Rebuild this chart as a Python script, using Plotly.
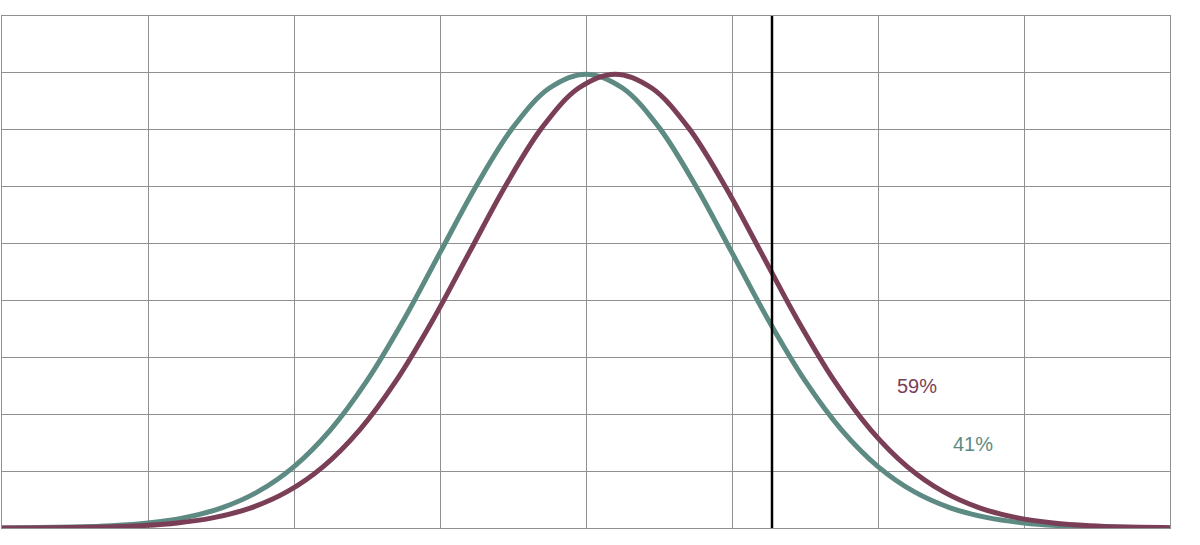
import plotly.graph_objects as go

# curve samples (x in sd units, y = density)
green_x = [-4.0, -3.75, -3.5, -3.25, -3.0, -2.75, -2.5, -2.25, -2.0, -1.75, -1.5,
           -1.25, -1.0, -0.75, -0.5, -0.25, 0.0, 0.25, 0.5, 0.75, 1.0, 1.25, 1.5,
           1.75, 2.0, 2.25, 2.5, 2.75, 3.0, 3.25, 3.5, 3.75, 4.0]
green_y = [0.0001, 0.0004, 0.0009, 0.0020, 0.0044, 0.0091, 0.0175, 0.0317, 0.0540,
           0.0863, 0.1295, 0.1826, 0.2420, 0.3011, 0.3521, 0.3867, 0.3989, 0.3867,
           0.3521, 0.3011, 0.2420, 0.1826, 0.1295, 0.0863, 0.0540, 0.0317, 0.0175,
           0.0091, 0.0044, 0.0020, 0.0009, 0.0004, 0.0001]

red_x = [-4.0, -3.8, -3.55, -3.3, -3.05, -2.8, -2.55, -2.3, -2.05, -1.8, -1.55,
         -1.3, -1.05, -0.8, -0.55, -0.3, -0.05, 0.2, 0.45, 0.7, 0.95, 1.2, 1.45,
         1.7, 1.95, 2.2, 2.45, 2.7, 2.95, 3.2, 3.45, 3.7, 3.95, 4.0]
red_y = [0.0001, 0.0001, 0.0004, 0.0009, 0.0020, 0.0044, 0.0091, 0.0175, 0.0317,
         0.0540, 0.0863, 0.1295, 0.1826, 0.2420, 0.3011, 0.3521, 0.3867, 0.3989,
         0.3867, 0.3521, 0.3011, 0.2420, 0.1826, 0.1295, 0.0863, 0.0540, 0.0317,
         0.0175, 0.0091, 0.0044, 0.0020, 0.0009, 0.0004, 0.0003]

cutoff_x = 1.274
labels = ["59%", "41%"]
label_x = [2.27, 2.65]
label_y = [0.1248, 0.0738]

GREEN = "#5d8b83"
RED = "#7a3f57"
GRID = "#8f8f8f"

fig = go.Figure()

fig.add_trace(go.Scatter(x=green_x, y=green_y, mode="lines",
                         line=dict(color=GREEN, width=5, shape="spline")))
fig.add_trace(go.Scatter(x=red_x, y=red_y, mode="lines",
                         line=dict(color=RED, width=5, shape="spline")))

fig.add_shape(type="line", x0=cutoff_x, x1=cutoff_x, y0=0, y1=1, yref="paper",
              line=dict(color="black", width=2.5))

for txt, lx, ly, col in zip(labels, label_x, label_y, [RED, GREEN]):
    fig.add_annotation(x=lx, y=ly, text=txt, showarrow=False,
                       font=dict(family="Liberation Sans, Arial", size=20, color=col))

axis_style = dict(showgrid=True, gridcolor=GRID, gridwidth=1, zeroline=False,
                  showticklabels=False, ticks="", showline=True, linecolor=GRID,
                  linewidth=1, mirror=True)

fig.update_layout(
    width=1200,
    height=545,
    margin=dict(l=2, r=30, t=16, b=17),
    paper_bgcolor="white",
    plot_bgcolor="white",
    showlegend=False,
    hovermode=False,
    xaxis=dict(range=[-4, 4], dtick=1, tick0=-4, **axis_style),
    yaxis=dict(range=[0, 0.45], dtick=0.05, tick0=0, **axis_style),
)

# drop the default page margin so the plot sits at the window's corner
fig.write_html("out.html", config={"displayModeBar": False},
               post_script="document.body.style.margin='0';")
